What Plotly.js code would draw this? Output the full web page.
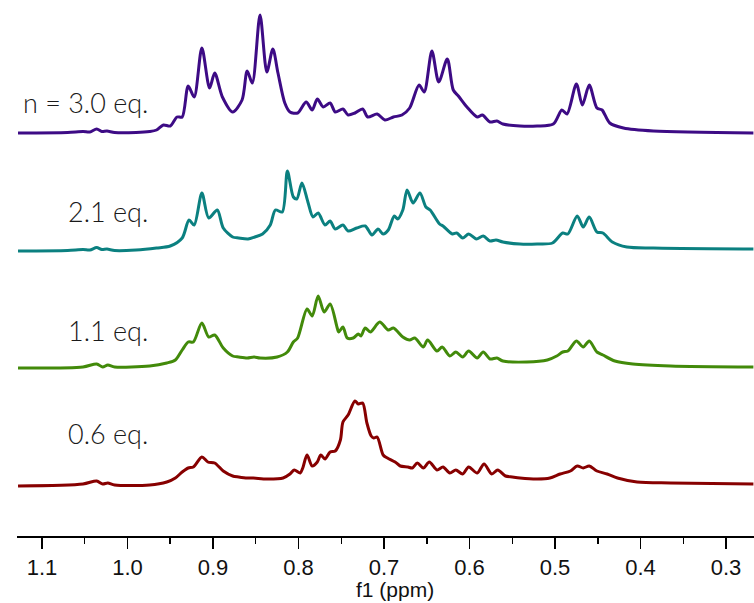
<!DOCTYPE html>
<html>
<head>
<meta charset="utf-8">
<script src="https://cdn.plot.ly/plotly-3.0.1.min.js"></script>
<style>html,body{margin:0;padding:0;background:#fff;}#chart{width:754px;height:603px;}</style>
</head>
<body>
<div id="chart"></div>
<script>
// Series labels
const seriesLabels = ["n = 3.0 eq.", "2.1 eq.", "1.1 eq.", "0.6 eq."];
const xAxisTitle = "f1 (ppm)";

// n = 3.0 eq. spectrum (ppm, relative intensity)
const ppm30 = [1.128,1.07,1.052,1.044,1.036,1.030,1.024,1.015,0.99,0.974,0.966,0.958,0.950,0.942,0.936,0.929,0.922,0.913,0.904,0.898,0.889,0.877,0.866,0.860,0.854,0.845,0.837,0.830,0.824,0.816,0.810,0.801,0.791,0.784,0.778,0.771,0.763,0.757,0.748,0.742,0.734,0.725,0.719,0.708,0.699,0.689,0.679,0.670,0.659,0.653,0.644,0.636,0.626,0.619,0.613,0.603,0.591,0.585,0.576,0.568,0.561,0.541,0.521,0.502,0.492,0.486,0.475,0.468,0.460,0.451,0.445,0.436,0.420,0.385,0.268];
const int30 = [0,0.5,1.5,1,4,1.5,2,0.5,0.5,1.5,3,8,7,16,16,47,36,85,45,60,36,21,33,62,50,118,61,84,60,30,21,20,31,23,34,26,30,21,24,18,20,24,16,19,13,16,18,25,48,41,82,51,74,43,37,26,16,18,11,12,9,7,7,9,23,19,49,28,48,25,23,10,5,2,0];

// 2.1 eq. spectrum
const ppm21 = [1.128,1.07,1.052,1.044,1.036,1.030,1.024,1.015,0.99,0.966,0.950,0.936,0.928,0.922,0.913,0.905,0.895,0.888,0.877,0.870,0.859,0.851,0.842,0.833,0.827,0.819,0.813,0.806,0.802,0.796,0.789,0.783,0.777,0.769,0.763,0.757,0.748,0.742,0.732,0.722,0.714,0.707,0.701,0.695,0.688,0.684,0.678,0.673,0.666,0.658,0.651,0.646,0.635,0.631,0.620,0.615,0.608,0.601,0.592,0.584,0.576,0.569,0.561,0.541,0.521,0.503,0.491,0.485,0.474,0.467,0.460,0.451,0.444,0.433,0.416,0.385,0.268];
const int21 = [0,0.5,1.5,1,3.5,1.5,2,0.5,1,3,5,13,31,26,58,33,41,23,14,13,12,14,17,26,41,39,80,54,52,68,49,34,38,26,30,22,26,20,23,25,16,22,17,21,35,32,41,61,48,58,44,41,27,25,17,18,13,17,12,15,10,11,9,7,7,8,18,17,35,24,34,19,18,9,4,3,2];

// 1.1 eq. spectrum
const ppm11 = [1.128,1.052,1.036,1.029,1.023,1.015,0.974,0.954,0.944,0.936,0.929,0.923,0.913,0.905,0.898,0.888,0.877,0.870,0.860,0.852,0.845,0.825,0.813,0.806,0.801,0.790,0.784,0.777,0.770,0.763,0.755,0.753,0.748,0.743,0.736,0.730,0.727,0.722,0.716,0.705,0.695,0.689,0.678,0.670,0.664,0.654,0.649,0.638,0.632,0.623,0.616,0.608,0.601,0.591,0.584,0.576,0.568,0.561,0.533,0.509,0.498,0.491,0.485,0.475,0.467,0.460,0.451,0.444,0.430,0.409,0.365,0.268];
const int11 = [0,1,4,1,3,1,2,5,8,18,26,26,45,31,33,20,12,11,10,11,10,11,16,26,30,59,52,72,56,64,41,36,41,30,30,34,32,40,36,46,38,40,31,28,30,21,28,17,21,12,16,11,17,10,16,9,10,7,6,8,12,16,17,27,21,27,16,13,7,4,2,1];

// 0.6 eq. spectrum
const ppm06 = [1.128,1.052,1.036,1.029,1.023,1.015,0.974,0.954,0.944,0.936,0.929,0.923,0.913,0.906,0.898,0.888,0.877,0.870,0.860,0.853,0.837,0.818,0.810,0.805,0.798,0.795,0.790,0.784,0.778,0.774,0.769,0.763,0.757,0.751,0.748,0.742,0.734,0.730,0.725,0.720,0.715,0.712,0.708,0.701,0.696,0.687,0.681,0.672,0.667,0.661,0.654,0.647,0.638,0.631,0.623,0.616,0.608,0.601,0.591,0.583,0.574,0.567,0.558,0.550,0.541,0.521,0.506,0.494,0.482,0.474,0.467,0.460,0.451,0.439,0.427,0.404,0.365,0.268];
const int06 = [0,2,5,2,3,1,1,4,8,14,18,19,29,24,23,15,10,9,8,8,7,8,12,16,13,18,31,20,24,31,27,34,35,46,64,71,85,82,83,63,50,48,49,31,28,24,20,19,18,23,18,24,16,19,13,16,12,19,13,22,12,16,10,9,8,7,8,12,15,20,18,20,15,12,8,4,3,2];

// vertical stacking offsets of the spectra
const offsets = [403, 285, 168, 50];
const colors = ["#3d0b85", "#0b8080", "#428a0a", "#870000"];

const xs = [ppm30, ppm21, ppm11, ppm06];
const ys = [int30, int21, int11, int06];

const traces = xs.map((x, i) => ({
  type: "scatter",
  mode: "lines",
  x: x,
  y: ys[i].map(v => v + offsets[i]),
  name: seriesLabels[i],
  line: {color: colors[i], width: 3, shape: "spline", smoothing: 0.8},
  hoverinfo: "x+name"
}));

const labelDy = [31, 40, 38, 53];
const annotations = seriesLabels.map((t, i) => ({
  text: t,
  xref: "x", yref: "y",
  x: 0.974, y: offsets[i] + labelDy[i],
  xanchor: "right", yanchor: "middle",
  showarrow: false,
  font: {family: "Lato, 'Open Sans', sans-serif", size: 27, color: "#1a1a1a", weight: 300}
}));

// x-axis title, just below the tick labels and resting on the bottom edge
annotations.push({
  text: xAxisTitle,
  xref: "paper", yref: "paper",
  x: 0.513, y: -0.125,
  xanchor: "center", yanchor: "bottom",
  showarrow: false,
  font: {family: "'Liberation Sans', Arial, sans-serif", size: 21, color: "#111"}
});

const layout = {
  width: 754, height: 603,
  margin: {l: 17, r: 0, t: 0, b: 67, pad: 0},
  paper_bgcolor: "#ffffff", plot_bgcolor: "#ffffff",
  showlegend: false,
  xaxis: {
    range: [1.1292, 0.2673],
    tick0: 0, dtick: 0.1, tickformat: ".1f",
    ticks: "outside", ticklen: 11, tickwidth: 1.5, tickcolor: "#000",
    showline: true, linecolor: "#000", linewidth: 2,
    showgrid: false, zeroline: false,
    tickfont: {family: "'Liberation Sans', Arial, sans-serif", size: 22, color: "#111"},
    minor: {ticks: "outside", ticklen: 6, dtick: 0.05, tick0: 0, tickwidth: 1.5, tickcolor: "#000", showgrid: false},
    automargin: false
  },
  yaxis: {range: [0, 536], visible: false, fixedrange: true},
  annotations: annotations
};

Plotly.newPlot("chart", traces, layout, {displayModeBar: false, staticPlot: true});
</script>
</body>
</html>
